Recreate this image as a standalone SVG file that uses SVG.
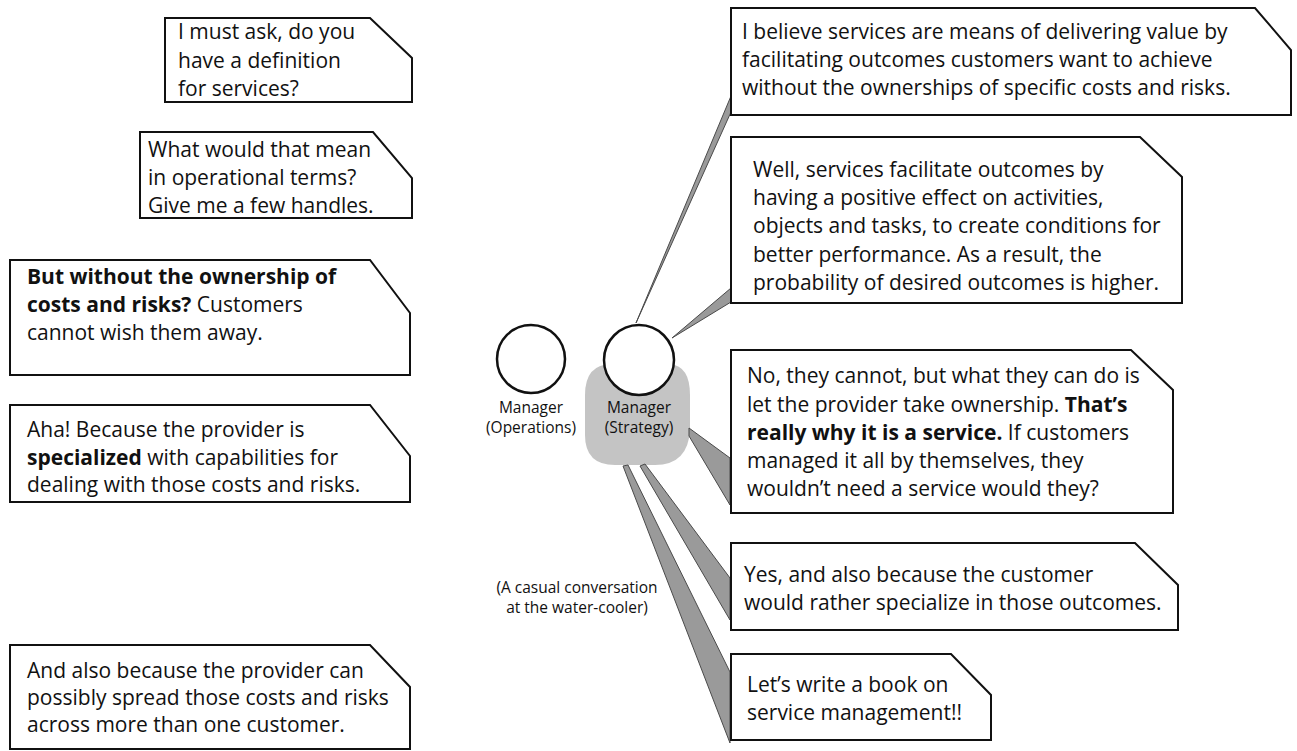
<svg xmlns="http://www.w3.org/2000/svg" width="1297" height="751" viewBox="0 0 1297 751">
<style>
.bx{fill:#fff;stroke:#111;stroke-width:2;stroke-linejoin:miter}
.t{font-family:"Open Sans","Noto Sans","Liberation Sans",sans-serif;font-size:21px;fill:#111}
.b{font-weight:bold}
.s{font-family:"Open Sans","Noto Sans","Liberation Sans",sans-serif;font-size:15.5px;fill:#111;text-anchor:middle}
.w{fill:#9a9a9a;stroke:#4a4a4a;stroke-width:1;stroke-linejoin:round}
.c{fill:#fff;stroke:#111;stroke-width:2.5}
</style>
<rect width="1297" height="751" fill="#fff"/>
<path id="blob" d="M612,364 L670,364 Q690,366 690,395 L690,430 Q688,465 655,465 L615,465 Q585,465 585,435 L585,395 Q585,364 612,364 Z" fill="#c4c4c4"/>
<g id="connectors">
<polygon class="w" points="636,323 731,96 731,112"/>
<polygon class="w" points="672,338 731,288 731,302"/>
<polygon class="w" points="689,428 730,458 730,505 689,436"/>
<polygon class="w" points="640,466 645,464 730,578 730,620"/>
<polygon class="w" points="623,466 628,465 730,672 730,743"/>
</g>
<g id="mgr-ops">
<circle class="c" cx="531" cy="359" r="34"/>
<text class="s" x="531" y="413">Manager</text>
<text class="s" x="531" y="433">(Operations)</text>
</g>
<g id="mgr-strategy">
<circle class="c" cx="639" cy="360" r="35"/>
<text class="s" x="639" y="413">Manager</text>
<text class="s" x="639" y="433">(Strategy)</text>
</g>
<g id="caption">
<text class="s" x="577" y="593">(A casual conversation</text>
<text class="s" x="577" y="613">at the water-cooler)</text>
</g>
<g id="L1">
<path class="bx" d="M165,18 H370 L412,58 V102 H165 Z"/>
<text class="t" x="178" y="39">I must ask, do you</text>
<text class="t" x="178" y="68">have a definition</text>
<text class="t" x="178" y="96">for services?</text>
</g>
<g id="L2">
<path class="bx" d="M140,132 H373 L412,178 V218 H140 Z"/>
<text class="t" x="148" y="157">What would that mean</text>
<text class="t" x="148" y="185">in operational terms?</text>
<text class="t" x="148" y="213">Give me a few handles.</text>
</g>
<g id="L3">
<path class="bx" d="M10,260 H370 L410,313 V375 H10 Z"/>
<text class="t b" x="27" y="284">But without the ownership of</text>
<text class="t" x="27" y="312"><tspan class="b">costs and risks?</tspan> Customers</text>
<text class="t" x="27" y="340">cannot wish them away.</text>
</g>
<g id="L4">
<path class="bx" d="M10,405 H370 L410,456 V502 H10 Z"/>
<text class="t" x="27" y="437">Aha! Because the provider is</text>
<text class="t" x="27" y="465"><tspan class="b">specialized</tspan> with capabilities for</text>
<text class="t" x="27" y="492">dealing with those costs and risks.</text>
</g>
<g id="L5">
<path class="bx" d="M10,645 H370 L410,687 V749 H10 Z"/>
<text class="t" x="27" y="678">And also because the provider can</text>
<text class="t" x="27" y="705">possibly spread those costs and risks</text>
<text class="t" x="27" y="732">across more than one customer.</text>
</g>
<g id="R1">
<path class="bx" d="M731,8 H1255 L1291,50 V115 H731 Z"/>
<text class="t" x="742" y="39">I believe services are means of delivering value by</text>
<text class="t" x="742" y="67">facilitating outcomes customers want to achieve</text>
<text class="t" x="742" y="95">without the ownerships of specific costs and risks.</text>
</g>
<g id="R2">
<path class="bx" d="M731,137 H1140 L1182,177 V303 H731 Z"/>
<text class="t" x="753" y="177">Well, services facilitate outcomes by</text>
<text class="t" x="753" y="205">having a positive effect on activities,</text>
<text class="t" x="753" y="233">objects and tasks, to create conditions for</text>
<text class="t" x="753" y="262">better performance. As a result, the</text>
<text class="t" x="753" y="290">probability of desired outcomes is higher.</text>
</g>
<g id="R3">
<path class="bx" d="M731,350 H1131 L1173,390 V513 H731 Z"/>
<text class="t" x="747" y="383">No, they cannot, but what they can do is</text>
<text class="t" x="747" y="412">let the provider take ownership. <tspan class="b">That’s</tspan></text>
<text class="t" x="747" y="440"><tspan class="b">really why it is a service.</tspan> If customers</text>
<text class="t" x="747" y="468">managed it all by themselves, they</text>
<text class="t" x="747" y="496">wouldn’t need a service would they?</text>
</g>
<g id="R4">
<path class="bx" d="M731,543 H1135 L1178,585 V630 H731 Z"/>
<text class="t" x="744" y="582">Yes, and also because the customer</text>
<text class="t" x="744" y="610">would rather specialize in those outcomes.</text>
</g>
<g id="R5">
<path class="bx" d="M731,654 H951 L991,695 V740 H731 Z"/>
<text class="t" x="747" y="692">Let’s write a book on</text>
<text class="t" x="747" y="720">service management!!</text>
</g>
</svg>
